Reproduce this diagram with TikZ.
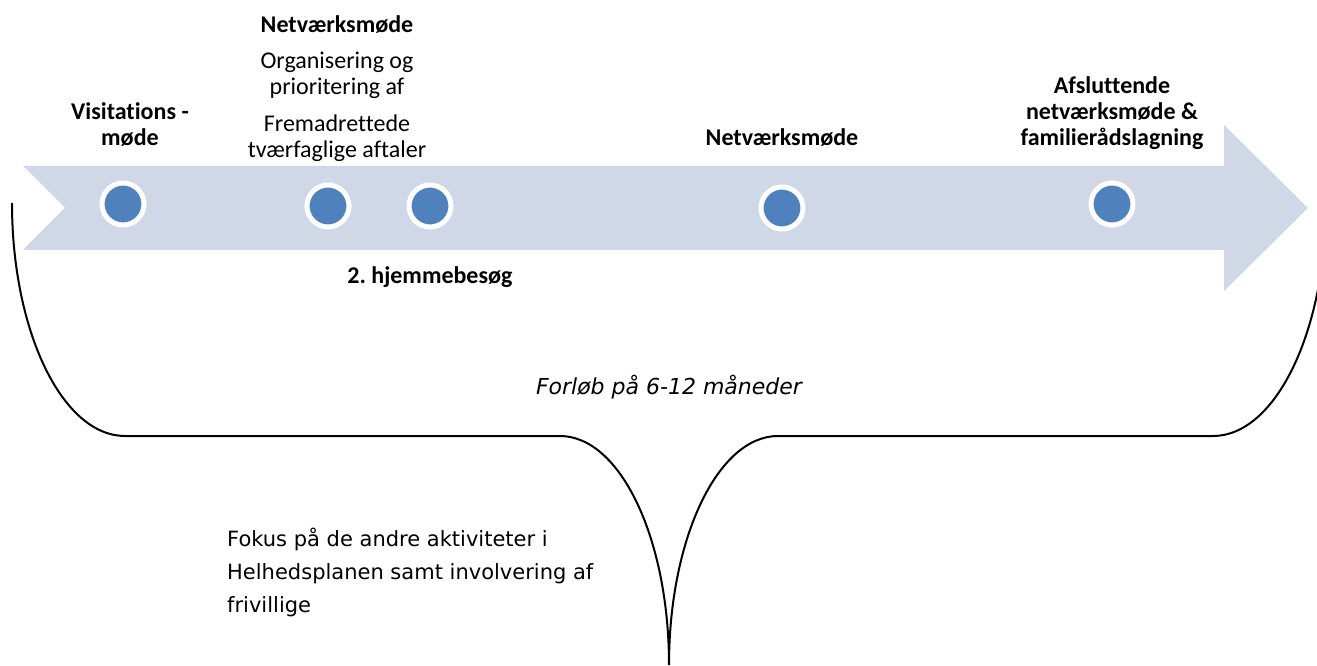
\documentclass[tikz,border=0pt]{standalone}
\usepackage{fontspec}
\setmainfont[Ligatures=NoCommon]{Carlito}
\newfontfamily\verdfont{DejaVu Sans}
\usepackage{tikz}
\usetikzlibrary{shapes,arrows}
\frenchspacing
\definecolor{bandfill}{RGB}{208,216,232}
\definecolor{dotblue}{RGB}{79,129,189}
\tikzstyle{milestone} = [circle, draw=white, line width=5pt, fill=dotblue,
    minimum size=42pt, inner sep=0pt]
\tikzstyle{event} = [align=center, inner sep=0pt,
    font=\bfseries\fontsize{24}{26}\selectfont]
\tikzstyle{note} = [align=center, inner sep=0pt,
    font=\fontsize{24}{26}\selectfont]
\tikzset{
  brace/.style ={draw, line width=2pt}
}

\begin{document}
\begin{tikzpicture}[x=1pt, y=1pt, node distance = 70pt]
   \useasboundingbox (0,0) rectangle (1317,665);
   \clip (0,0) rectangle (1317,665);
   % timeline arrow
   \fill [bandfill] (23,499) -- (1224,499) -- (1224,540) -- (1308,457)
      -- (1224,374) -- (1224,415) -- (23,415) -- (65,457) -- cycle;
   \node [milestone] (visit) at (123,461) {};
   \node [milestone] (net_first) at (328,459) {};
   \node [milestone] (home) at (430,459) {};
   \node [milestone] (net_mid) at (782,457) {};
   \node [milestone] (closing) at (1112,461) {};
   % labels
   \node [event] (visit_lbl) at (130,540) {Visitations -\\møde};
   \node [event] (net_first_lbl) at (337,640) {Netværksmøde};
   \node [note] (prio_lbl) at (337,590) {Organisering og\\prioritering af};
   \node [note] (plan_lbl) at (337,527) {Fremadrettede\\tværfaglige aftaler};
   \node [event,below of=home,node distance = 71pt] (home_lbl) {2. hjemmebesøg};
   \node [event,above of=net_mid] (net_mid_lbl) {Netværksmøde};
   \node [event,above of=closing,node distance = 91pt] (closing_lbl)
      {Afsluttende\\netværksmøde \&\\familierådslagning};
   % brace under the timeline
   \path [brace] (12,462) arc [start angle=180, end angle=270, x radius=113, y radius=233]
      -- (560,229) arc [start angle=90, end angle=0, x radius=109, y radius=229]
      coordinate (tip)
      arc [start angle=180, end angle=90, x radius=109, y radius=229]
      -- (1213,229) arc [start angle=270, end angle=360, x radius=113, y radius=233];
   \node [inner sep=0pt, font=\verdfont\itshape\fontsize{22}{26}\selectfont]
      (period) at (669,278) {Forløb på 6-12 måneder};
   \node [anchor=west, align=left, inner sep=0pt,
      font=\verdfont\fontsize{21}{33}\selectfont] (focus) at (227,93)
      {Fokus på de andre aktiviteter i\\Helhedsplanen samt involvering af\\frivillige};
\end{tikzpicture}
\end{document}
